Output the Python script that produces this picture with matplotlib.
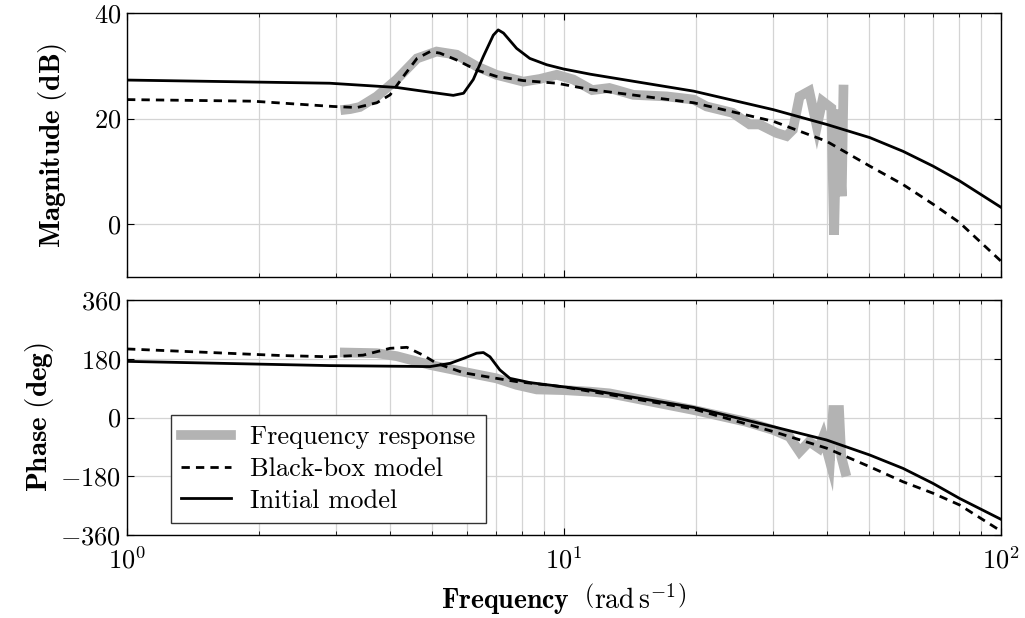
import matplotlib
matplotlib.use("Agg")
import matplotlib.pyplot as plt
import numpy as np

plt.rcParams["font.family"] = "serif"
plt.rcParams["font.serif"] = ["cmr10"]
plt.rcParams["mathtext.fontset"] = "cm"
plt.rcParams["axes.formatter.use_mathtext"] = True
plt.rcParams["axes.unicode_minus"] = True
plt.rcParams["font.size"] = 19

color_meas = "#b3b3b3"
color_grid = "#d4d4d4"

# measured frequency response (rad/s, dB, deg)
meas_w = [3.16, 3.24, 3.41, 3.73, 4.14, 4.61, 5.11, 5.68, 6.31, 7.0, 8.07, 8.8, 9.63,
          10.5, 11.6, 12.7, 14.4, 17.2, 19.8, 21.2, 24.3, 26.6, 28.0, 30.6, 32.3, 33.4,
          34.6, 36.4, 37.9, 39.0, 40.9, 41.5, 42.1, 43.2, 43.6]
meas_mag = [21.7, 21.8, 22.2, 24.2, 27.4, 31.4, 32.7, 32.1, 29.9, 28.3, 27.0, 27.5, 28.3,
            27.4, 25.4, 25.8, 24.5, 24.2, 23.6, 22.3, 21.1, 18.9, 18.9, 17.3, 16.7, 17.9,
            24.2, 25.2, 18.5, 23.3, 22.0, -2.0, 21.7, 5.3, 25.5]
meas_ph_w = [3.15, 3.73, 4.14, 4.94, 5.89, 7.0, 7.79, 8.66, 9.97, 11.5, 12.7, 19.8,
             26.1, 30.1, 32.8, 34.6, 36.4, 38.3, 39.2, 40.6, 41.3, 42.6, 43.1, 44.0]
meas_ph = [199, 197, 188, 161, 140, 120, 100, 86, 84, 79, 74, 23,
           -13, -38, -59, -105, -74, -94, -59, -135, 23, 23, -120, -166]

# black-box model
bb_w = [1.0, 1.94, 2.96, 3.36, 3.73, 4.0, 4.29, 4.61, 4.94, 5.2, 5.68, 6.31, 7.0, 8.07,
        9.63, 11.5, 19.8, 30.1, 39.9, 50.1, 59.7, 69.9, 80.4, 100.0]
bb_mag = [23.6, 23.3, 22.3, 22.1, 23.0, 24.5, 28.0, 31.4, 32.7, 32.4, 31.1, 29.2, 28.0, 27.2,
          26.7, 25.5, 23.0, 19.5, 15.7, 11.0, 7.5, 3.8, 0.3, -7.0]
bb_ph_w = [1.0, 2.24, 2.91, 3.47, 4.0, 4.37, 4.76, 5.11, 5.89, 7.0, 7.79, 9.97, 19.8,
           30.1, 39.9, 50.1, 59.7, 69.9, 80.4, 100.0]
bb_ph = [210, 190, 186, 191, 212, 215, 191, 166, 137, 120, 110, 94, 26,
         -43, -94, -151, -197, -232, -268, -348]

# initial model
init_w = [1.0, 2.91, 4.14, 4.94, 5.58, 5.89, 6.2, 6.54, 6.89, 7.07, 7.27, 7.79, 8.35,
          9.13, 9.97, 11.5, 19.8, 30.1, 39.9, 50.1, 59.7, 69.9, 80.4, 100.0]
init_mag = [27.3, 26.7, 25.9, 25.0, 24.4, 24.8, 27.4, 31.8, 35.8, 36.8, 36.2, 33.3, 31.4,
            30.2, 29.4, 28.4, 25.2, 21.7, 18.9, 16.4, 13.8, 11.0, 8.2, 3.2]
init_ph_w = [1.0, 2.91, 4.94, 5.49, 5.89, 6.31, 6.54, 6.77, 7.13, 7.52, 8.35, 9.97, 11.5,
             19.8, 30.1, 39.9, 50.1, 59.7, 69.9, 80.4, 100.0]
init_ph = [172, 159, 156, 166, 181, 197, 199, 186, 146, 120, 107, 94, 84,
           31, -28, -69, -115, -156, -202, -248, -312]

fig = plt.figure(figsize=(10.25, 6.18), dpi=100)
ax1 = fig.add_axes([127/1025, 1 - 277/618, 874/1025, 264/618])
ax2 = fig.add_axes([127/1025, 1 - 535/618, 874/1025, 235/618], sharex=ax1)

ax1.plot(meas_w, meas_mag, c=color_meas, lw=7, solid_joinstyle="miter",
         label="Frequency response")
ax1.plot(bb_w, bb_mag, c="black", lw=2, ls=(0, (3, 2.2)), label="Black-box model")
ax1.plot(init_w, init_mag, c="black", lw=2, label="Initial model")

ax2.plot(meas_ph_w, meas_ph, c=color_meas, lw=7, solid_joinstyle="miter",
         label="Frequency response")
ax2.plot(bb_ph_w, bb_ph, c="black", lw=2, ls=(0, (3, 2.2)), label="Black-box model")
ax2.plot(init_ph_w, init_ph, c="black", lw=2, label="Initial model")

for ax in (ax1, ax2):
    ax.set_xscale("log")
    ax.set_xlim(1, 100)
    ax.grid(True, which="major", color=color_grid, lw=0.9)
    ax.grid(True, which="minor", axis="x", color=color_grid, lw=0.9)
    ax.set_axisbelow(True)
    ax.tick_params(which="both", direction="in", top=True, right=True, labelsize=19, pad=4)
    ax.tick_params(which="major", length=5)
    ax.tick_params(which="minor", length=3)
    for s in ax.spines.values():
        s.set_linewidth(1.0)

ax1.set_ylim(-10, 40)
ax1.set_yticks([0, 20, 40])
ax2.set_ylim(-360, 360)
ax2.set_yticks([-360, -180, 0, 180, 360])
ax1.tick_params(labelbottom=False)
ax2.tick_params(axis="x", which="both", pad=8)

ax1.set_ylabel(r"$\mathbf{Magnitude\ (dB)}$", fontsize=21)
ax2.set_ylabel(r"$\mathbf{Phase\ (deg)}$", fontsize=21)
ax1.yaxis.set_label_coords(-0.066, 0.5)
ax2.yaxis.set_label_coords(-0.081, 0.5)
ax2.set_xlabel(r"$\mathbf{Frequency}\ \ \left(\mathrm{rad\,s^{-1}}\right)$", fontsize=20, labelpad=6)

ax2.legend(loc="lower left", bbox_to_anchor=(0.05, 0.05), fancybox=False, framealpha=1,
           edgecolor="#333333", fontsize=19, handlelength=1.9, borderpad=0.4,
           labelspacing=0.3, handletextpad=0.7, borderaxespad=0)

fig.savefig("out.png", dpi=100)
